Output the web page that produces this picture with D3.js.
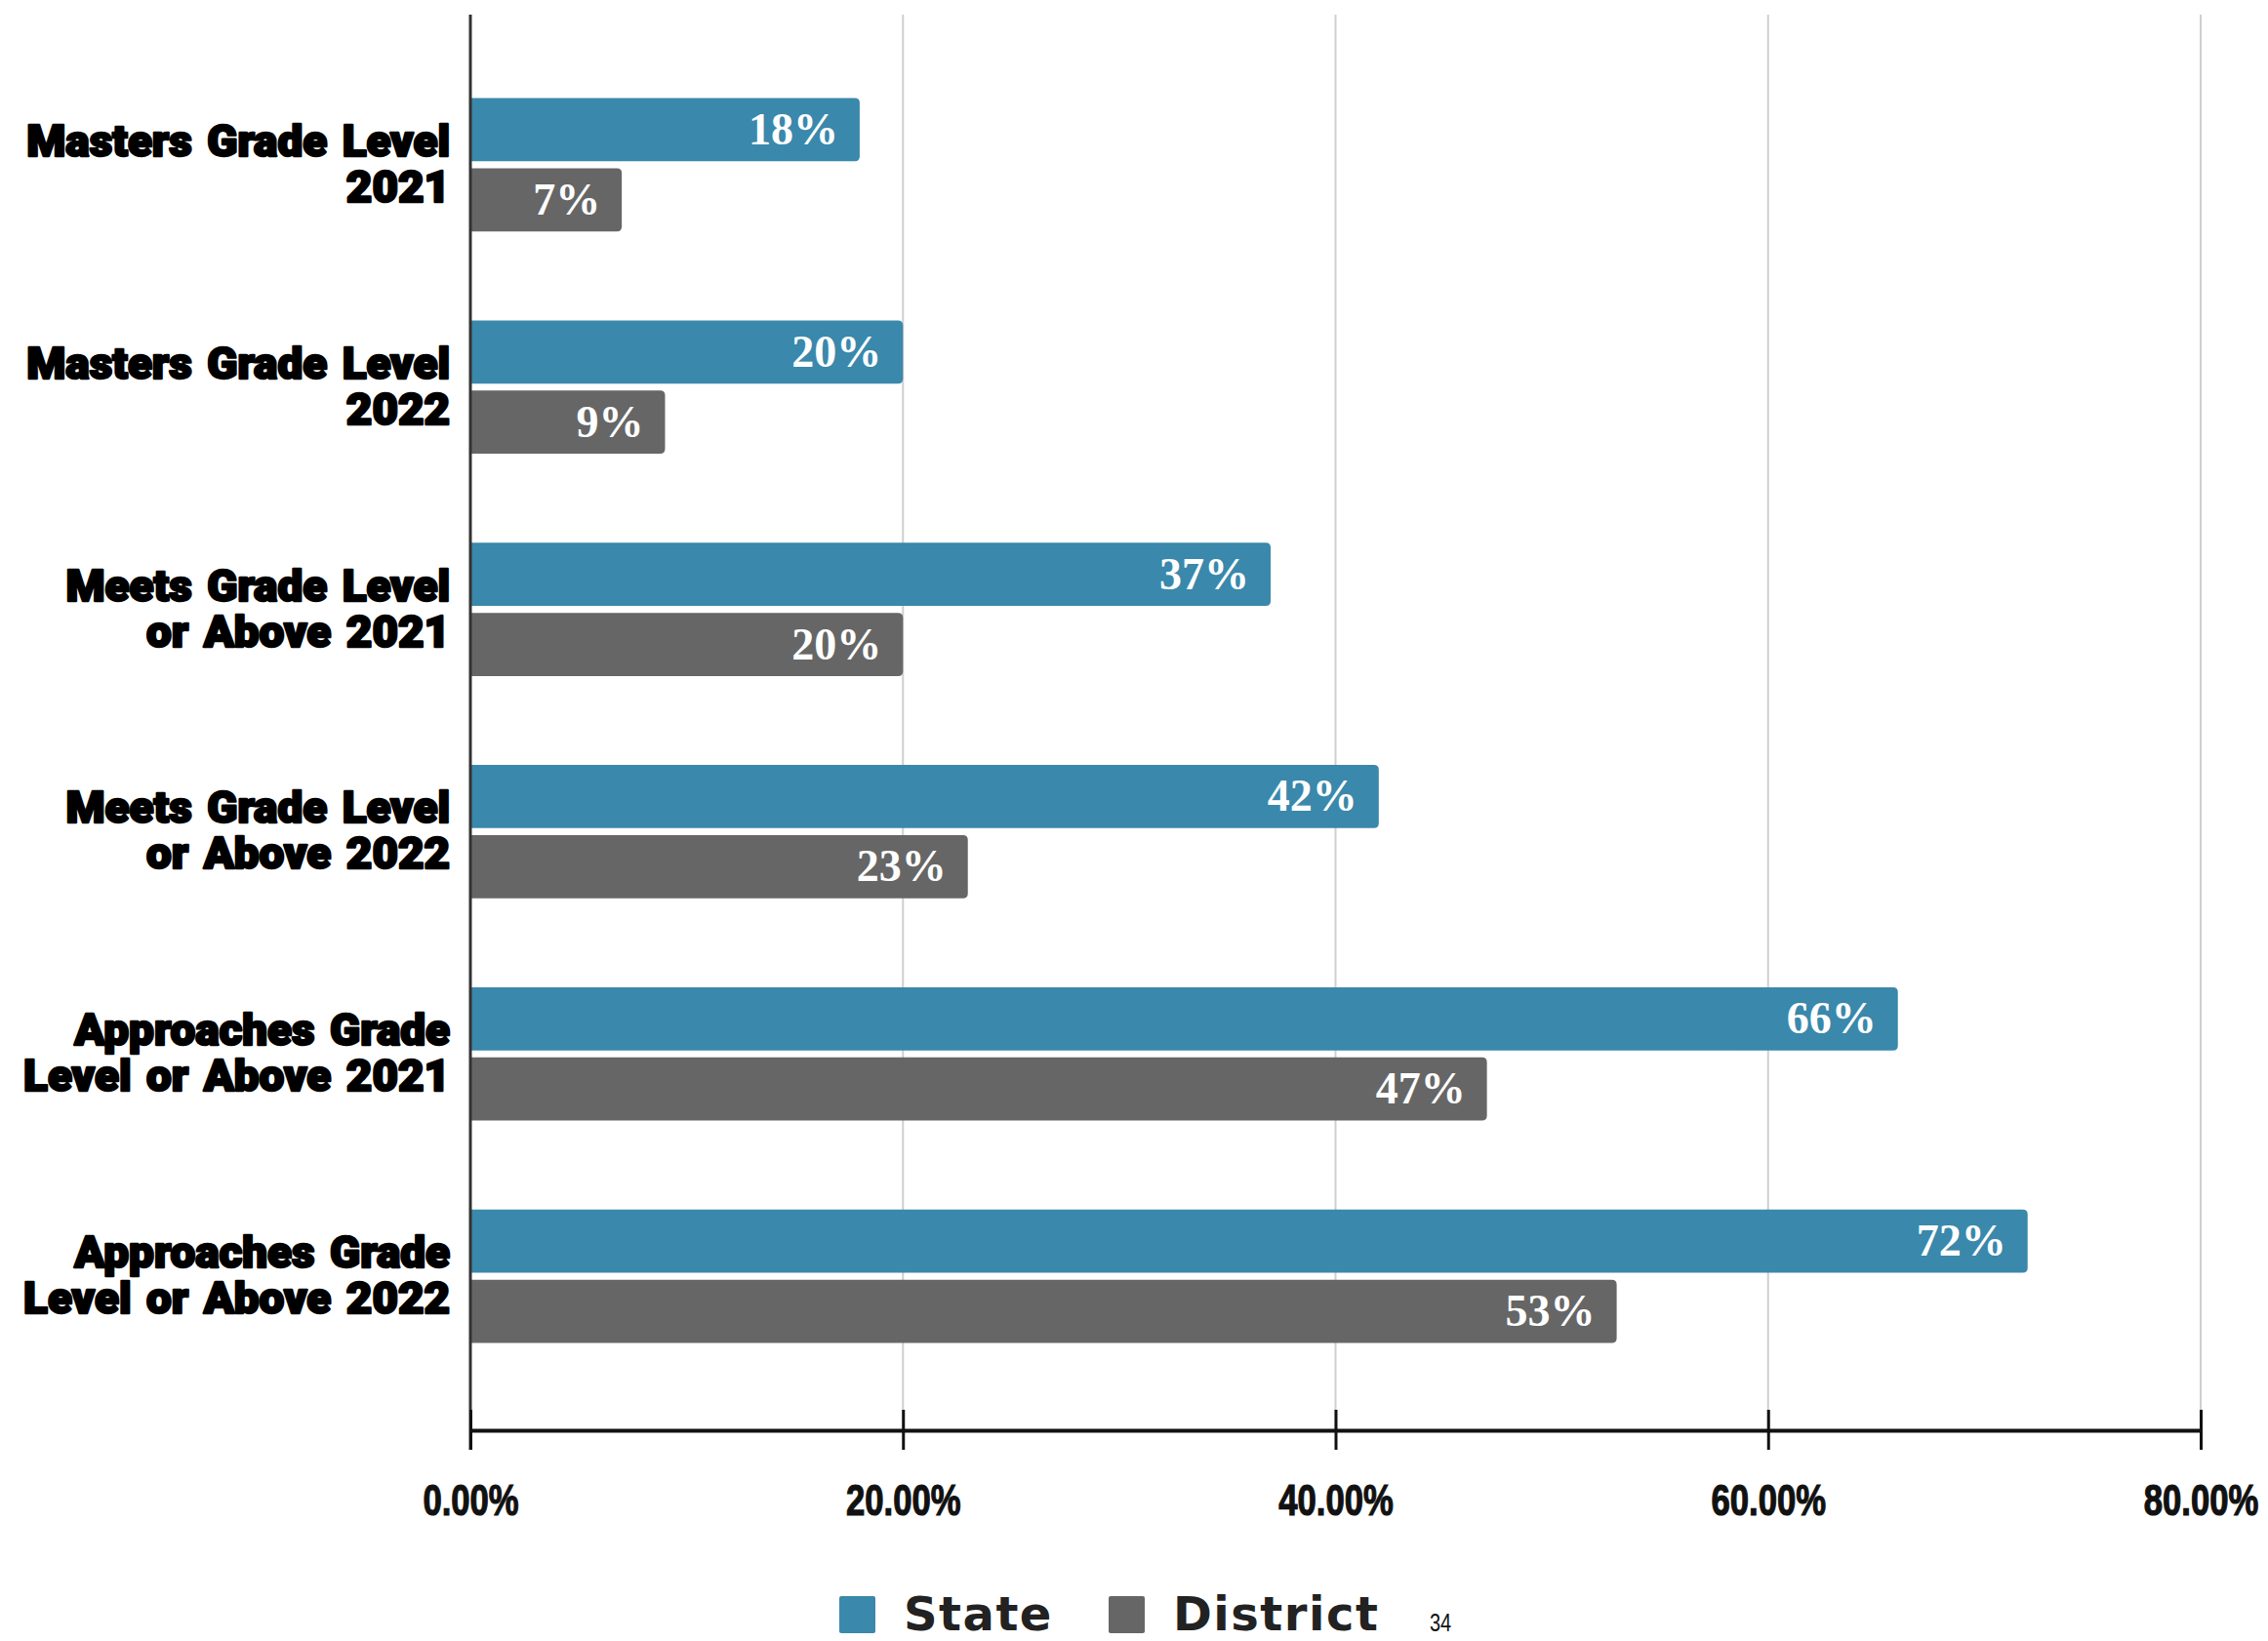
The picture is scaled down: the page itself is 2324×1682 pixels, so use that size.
<!DOCTYPE html>
<html><head><meta charset="utf-8">
<script src="https://cdn.jsdelivr.net/npm/d3@7"></script>
<style>
html,body{margin:0;padding:0;background:#fff;}
svg{display:block;}
</style></head>
<body>
<svg id="chart" width="2324" height="1682"></svg>
<script>
const categories = [
  ["Masters Grade Level", "2021"],
  ["Masters Grade Level", "2022"],
  ["Meets Grade Level", "or Above 2021"],
  ["Meets Grade Level", "or Above 2022"],
  ["Approaches Grade", "Level or Above 2021"],
  ["Approaches Grade", "Level or Above 2022"]
];
const seriesNames = ["State", "District"];
const stateValues = [18, 20, 37, 42, 66, 72];
const districtValues = [7, 9, 20, 23, 47, 53];
const tickValues = [0, 20, 40, 60, 80];
const tickLabels = ["0.00%", "20.00%", "40.00%", "60.00%", "80.00%"];
const colors = ["#3a88ab", "#666666"];
const pageNumber = "34";

const svg = d3.select("#chart");
const x = d3.scaleLinear().domain([0, 80]).range([482, 2255]);
const catIdx = categories.map((d, i) => i);
const y = d3.scaleBand().domain(catIdx).range([55, 1422]).paddingInner(0.4).paddingOuter(0.2);
const ySub = d3.scaleBand().domain([0, 1]).range([0, y.bandwidth()]).paddingInner(0.1);
const axisTop = 15, axisY = 1466;

// gridlines
svg.append("g").selectAll("line").data(tickValues.slice(1)).join("line")
  .attr("x1", d => x(d)).attr("x2", d => x(d))
  .attr("y1", axisTop).attr("y2", axisY)
  .attr("stroke", "#cfcfcf").attr("stroke-width", 2);

// bars
const data = [];
catIdx.forEach(i => {
  data.push({c: i, s: 0, v: stateValues[i]});
  data.push({c: i, s: 1, v: districtValues[i]});
});
const r = 5;
function barPath(x0, x1, y0, h) {
  return `M${x0},${y0}H${x1 - r}Q${x1},${y0} ${x1},${y0 + r}V${y0 + h - r}Q${x1},${y0 + h} ${x1 - r},${y0 + h}H${x0}Z`;
}
svg.append("g").selectAll("path").data(data).join("path")
  .attr("d", d => barPath(x(0), x(d.v), y(d.c) + ySub(d.s), ySub.bandwidth()))
  .attr("fill", d => colors[d.s]);

svg.append("g").selectAll("text").data(data).join("text")
  .attr("x", d => x(d.v) - 22)
  .attr("y", d => y(d.c) + ySub(d.s) + ySub.bandwidth() / 2 + 15)
  .attr("text-anchor", "end")
  .attr("font-family", "'Liberation Serif', 'DejaVu Serif', serif")
  .attr("font-weight", "bold")
  .attr("font-size", 46)
  .attr("fill", "#fff")
  .text(d => d.v + "%");

// left axis line
svg.append("line").attr("x1", x(0)).attr("x2", x(0)).attr("y1", axisTop).attr("y2", axisY + 20)
  .attr("stroke", "#333").attr("stroke-width", 3);

// bottom axis
const xAxis = d3.axisBottom(x).tickValues(tickValues).tickSize(0).tickFormat((d, i) => tickLabels[i]);
const gx = svg.append("g").attr("transform", `translate(0,${axisY})`).call(xAxis);
gx.select(".domain").attr("stroke", "#111").attr("stroke-width", 4);
gx.selectAll(".tick line").remove();
gx.selectAll(".tick").append("line").attr("y1", -21).attr("y2", 20).attr("stroke", "#111").attr("stroke-width", 3);
gx.selectAll(".tick text")
  .attr("y", 0).attr("dy", 0)
  .attr("transform", "translate(0,87) scale(0.77,1)")
  .attr("font-family", "'Liberation Sans', 'Arial', sans-serif")
  .attr("font-weight", "bold")
  .attr("font-size", 45)
  .attr("stroke", "#111").attr("stroke-width", 1.2)
  .attr("fill", "#111");

// category labels
const lab = svg.append("g").attr("font-family", "Roboto, 'DejaVu Sans', sans-serif")
  .attr("font-weight", 900).attr("font-size", 44).attr("fill", "#000")
  .attr("stroke", "#000").attr("stroke-width", 2.4).attr("stroke-linejoin", "round")
  .attr("word-spacing", 4)
  .attr("text-anchor", "end");
catIdx.forEach(i => {
  const cy = y(i) + y.bandwidth() / 2;
  lab.append("text").attr("x", 461).attr("y", cy - 9).text(categories[i][0]);
  lab.append("text").attr("x", 461).attr("y", cy + 38).text(categories[i][1]);
});
// uniform horizontal scaling to match reference width
const longest = d3.max(lab.selectAll("text").nodes(), n => n.getComputedTextLength());
const sx = 437 / longest;
lab.attr("transform", `translate(${461 * (1 - sx)},0) scale(${sx},1)`);

// legend
const leg = svg.append("g");
const legX = [860, 1136];
seriesNames.forEach((s, i) => {
  leg.append("rect").attr("x", legX[i]).attr("y", 1636).attr("width", 37).attr("height", 38).attr("rx", 2).attr("fill", colors[i]);
  leg.append("text").attr("x", legX[i] + 66).attr("y", 1671)
    .attr("font-family", "'DejaVu Sans', sans-serif").attr("font-weight", "bold")
    .attr("font-size", 48).attr("letter-spacing", 1.5).attr("fill", "#222").text(s);
});
svg.append("text").attr("transform", "translate(1465,1672) scale(0.8,1)")
  .attr("font-family", "'Liberation Sans', sans-serif")
  .attr("font-size", 25).attr("fill", "#111").text(pageNumber);
</script>
</body></html>
